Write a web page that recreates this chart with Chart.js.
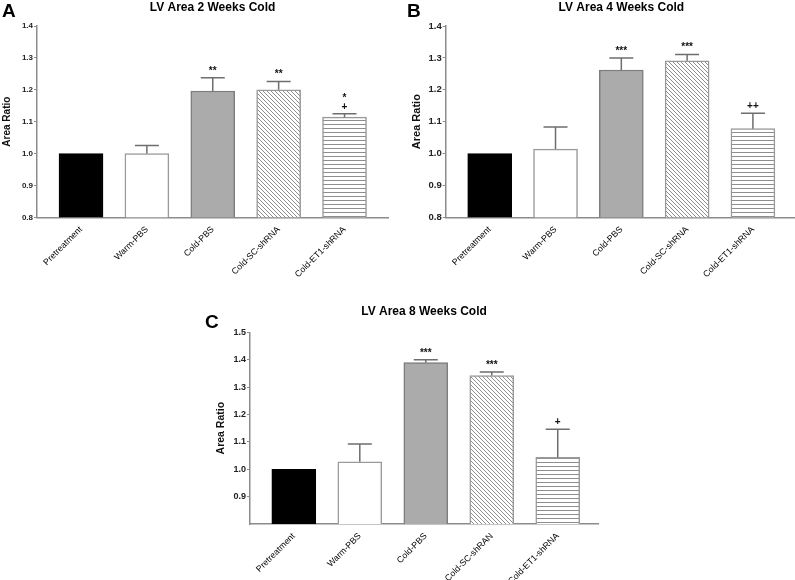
<!DOCTYPE html>
<html>
<head>
<meta charset="utf-8">
<script src="https://cdn.jsdelivr.net/npm/chart.js@4.4.0/dist/chart.umd.min.js"></script>
<style>
html, body { margin: 0; padding: 0; background: #fff; overflow: hidden; width: 795px; height: 580px; }
canvas { position: absolute; }
</style>
</head>
<body>
<canvas id="chartA" width="395" height="290" style="left:0px;top:0px"></canvas>
<canvas id="chartB" width="405" height="290" style="left:395px;top:0px"></canvas>
<canvas id="chartC" width="400" height="290" style="left:200px;top:290px"></canvas>
<script>
// GROUPS
var groupsAB = ["Pretreatment", "Warm-PBS", "Cold-PBS", "Cold-SC-shRNA", "Cold-ET1-shRNA"];
var groupsC = ["Pretreatment", "Warm-PBS", "Cold-PBS", "Cold-SC-shRAN", "Cold-ET1-shRNA"];

// 2 WEEKS
var meanA = [1.0, 1.0, 1.196, 1.200, 1.114];
var semA = [0, 0.025, 0.042, 0.026, 0.011];
var marksA = ["", "", "**", "**", "*\n+"];
var yTicksA = [0.8, 0.9, 1.0, 1.1, 1.2, 1.3, 1.4];

// 4 WEEKS
var meanB = [1.0, 1.014, 1.262, 1.291, 1.078];
var semB = [0, 0.069, 0.038, 0.020, 0.048];
var marksB = ["", "", "***", "***", "++"];
var yTicksB = [0.8, 0.9, 1.0, 1.1, 1.2, 1.3, 1.4];

// 8 WEEKS
var meanC = [1.0, 1.027, 1.389, 1.342, 1.043];
var semC = [0, 0.065, 0.011, 0.013, 0.103];
var marksC = ["", "", "***", "***", "+"];
var yTicksC = [0.9, 1.0, 1.1, 1.2, 1.3, 1.4, 1.5];

var FONT = "'Liberation Sans', Arial, sans-serif";

//PATTERNS
function makePattern(kind) {
    var c = document.createElement("canvas");
    c.width = 4;
    c.height = 4;
    var g = c.getContext("2d");
    g.fillStyle = "#fff";
    g.fillRect(0, 0, 4, 4);
    g.strokeStyle = "#8e8e8e";
    g.lineWidth = 1;
    g.beginPath();
    if (kind === "diag") {
        g.moveTo(-1, -1); g.lineTo(5, 5);
        g.moveTo(-1, 3); g.lineTo(1, 5);
        g.moveTo(3, -1); g.lineTo(5, 1);
    } else {
        g.moveTo(0, 0.5); g.lineTo(4, 0.5);
    }
    g.stroke();
    return g.createPattern(c, "repeat");
}

var fills = ["#000000", "#ffffff", "#ababab", makePattern("diag"), makePattern("horiz")];
var borders = ["#000000", "#9a9a9a", "#7d7d7d", "#999999", "#999999"];

//ERROR BARS + SIGNIFICANCE MARKS
function errorBars(sems, marks) {
    return {
        id: "errorBars",
        afterDatasetsDraw: function(chart) {
            var ctx = chart.ctx;
            var y = chart.scales.y;
            var meta = chart.getDatasetMeta(0);
            var data = chart.data.datasets[0].data;
            ctx.save();
            meta.data.forEach(function(bar, i) {
                var capY = y.getPixelForValue(data[i].y + sems[i]);
                if (sems[i] > 0) {
                    ctx.strokeStyle = "#6e6e6e";
                    ctx.lineWidth = 1.5;
                    ctx.beginPath();
                    ctx.moveTo(bar.x, bar.y);
                    ctx.lineTo(bar.x, capY);
                    ctx.moveTo(bar.x - 12, capY);
                    ctx.lineTo(bar.x + 12, capY);
                    ctx.stroke();
                }
                if (marks[i]) {
                    var lines = marks[i].split("\n");
                    ctx.fillStyle = "#111";
                    ctx.font = "bold 10px " + FONT;
                    ctx.textAlign = "center";
                    ctx.textBaseline = "alphabetic";
                    for (var k = 0; k < lines.length; k++) {
                        ctx.fillText(lines[k], bar.x, capY - 4 - (lines.length - 1 - k) * 9);
                    }
                }
            });
            ctx.restore();
        }
    };
}

//TITLE + PANEL LETTER
function panelText(letter, title, letterX, letterY, titleY) {
    return {
        id: "panelText",
        afterDraw: function(chart) {
            var ctx = chart.ctx;
            var area = chart.chartArea;
            ctx.save();
            ctx.fillStyle = "#000";
            ctx.font = "bold 19px " + FONT;
            ctx.textAlign = "left";
            ctx.textBaseline = "alphabetic";
            ctx.fillText(letter, letterX, letterY);
            ctx.font = "bold 12px " + FONT;
            ctx.textAlign = "center";
            ctx.textBaseline = "middle";
            ctx.fillText(title, (area.left + area.right) / 2, titleY);
            ctx.restore();
        }
    };
}

function makePanel(id, groups, means, sems, marks, yTicks, yMin, yMax, lay) {
    var ctx = document.getElementById(id).getContext("2d");
    return new Chart(ctx, {
        type: "bar",
        data: {
            datasets: [{
                data: means.map(function(v, i) { return { x: i, y: v }; }),
                backgroundColor: fills,
                borderColor: borders,
                borderWidth: 1.5,
                barThickness: 44
            }]
        },
        options: {
            responsive: false,
            animation: false,
            events: [],
            layout: { padding: { top: lay.top, right: lay.right, left: 0, bottom: 0 } },
            plugins: { legend: { display: false }, tooltip: { enabled: false } },
            scales: {
                x: {
                    type: "linear",
                    offset: false,
                    min: lay.xMin,
                    max: lay.xMax,
                    grid: { display: false, offset: false },
                    border: { display: true, color: "#8c8c8c", width: 1.5 },
                    afterBuildTicks: function(s) {
                        s.ticks = groups.map(function(g, i) { return { value: i }; });
                    },
                    afterFit: function(s) { s.height = lay.xHeight; },
                    ticks: {
                        autoSkip: false,
                        minRotation: 45,
                        maxRotation: 45,
                        padding: -1,
                        color: "#000",
                        font: { family: FONT, size: 8.8 },
                        callback: function(v) { return groups[v]; }
                    }
                },
                y: {
                    min: yMin,
                    max: yMax,
                    afterBuildTicks: function(s) {
                        s.ticks = yTicks.map(function(v) { return { value: v }; });
                    },
                    afterFit: function(s) { s.width = lay.yWidth; },
                    grid: { drawOnChartArea: false, tickLength: 3, color: "#8c8c8c" },
                    border: { display: true, color: "#8c8c8c", width: 1.5 },
                    ticks: {
                        padding: 1,
                        color: "#222",
                        font: { family: FONT, size: lay.tickSize, weight: "bold" },
                        callback: function(v) { return v.toFixed(1); }
                    },
                    title: {
                        display: true,
                        text: "Area Ratio",
                        color: "#111",
                        font: { family: FONT, size: lay.yTitleSize, weight: "bold" },
                        padding: { top: lay.yTitlePad, bottom: 0 }
                    }
                }
            }
        },
        plugins: [errorBars(sems, marks), panelText(lay.letter, lay.title, lay.letterX, lay.letterY, lay.titleY)]
    });
}

var chartA = makePanel("chartA", groupsAB, meanA, semA, marksA, yTicksA, 0.8, 1.4, {
    top: 26, right: 7, xHeight: 72.7, yWidth: 37, xMin: -0.668, xMax: 4.66,
    tickSize: 8, yTitleSize: 10, yTitlePad: 1,
    letter: "A", title: "LV Area 2 Weeks Cold", letterX: 2, letterY: 17, titleY: 8
});

var chartB = makePanel("chartB", groupsAB, meanB, semB, marksB, yTicksB, 0.8, 1.4, {
    top: 26, right: 3, xHeight: 72.7, yWidth: 50.7, xMin: -0.669, xMax: 4.67,
    tickSize: 9.5, yTitleSize: 11, yTitlePad: 15,
    letter: "B", title: "LV Area 4 Weeks Cold", letterX: 12, letterY: 17, titleY: 8
});

var chartC = makePanel("chartC", groupsC, meanC, semC, marksC, yTicksC, 0.8, 1.5, {
    top: 42.3, right: 2, xHeight: 56, yWidth: 50, xMin: -0.664, xMax: 4.61,
    tickSize: 9, yTitleSize: 10.5, yTitlePad: 14.7,
    letter: "C", title: "LV Area 8 Weeks Cold", letterX: 5, letterY: 38, titleY: 22
});
</script>
</body>
</html>
